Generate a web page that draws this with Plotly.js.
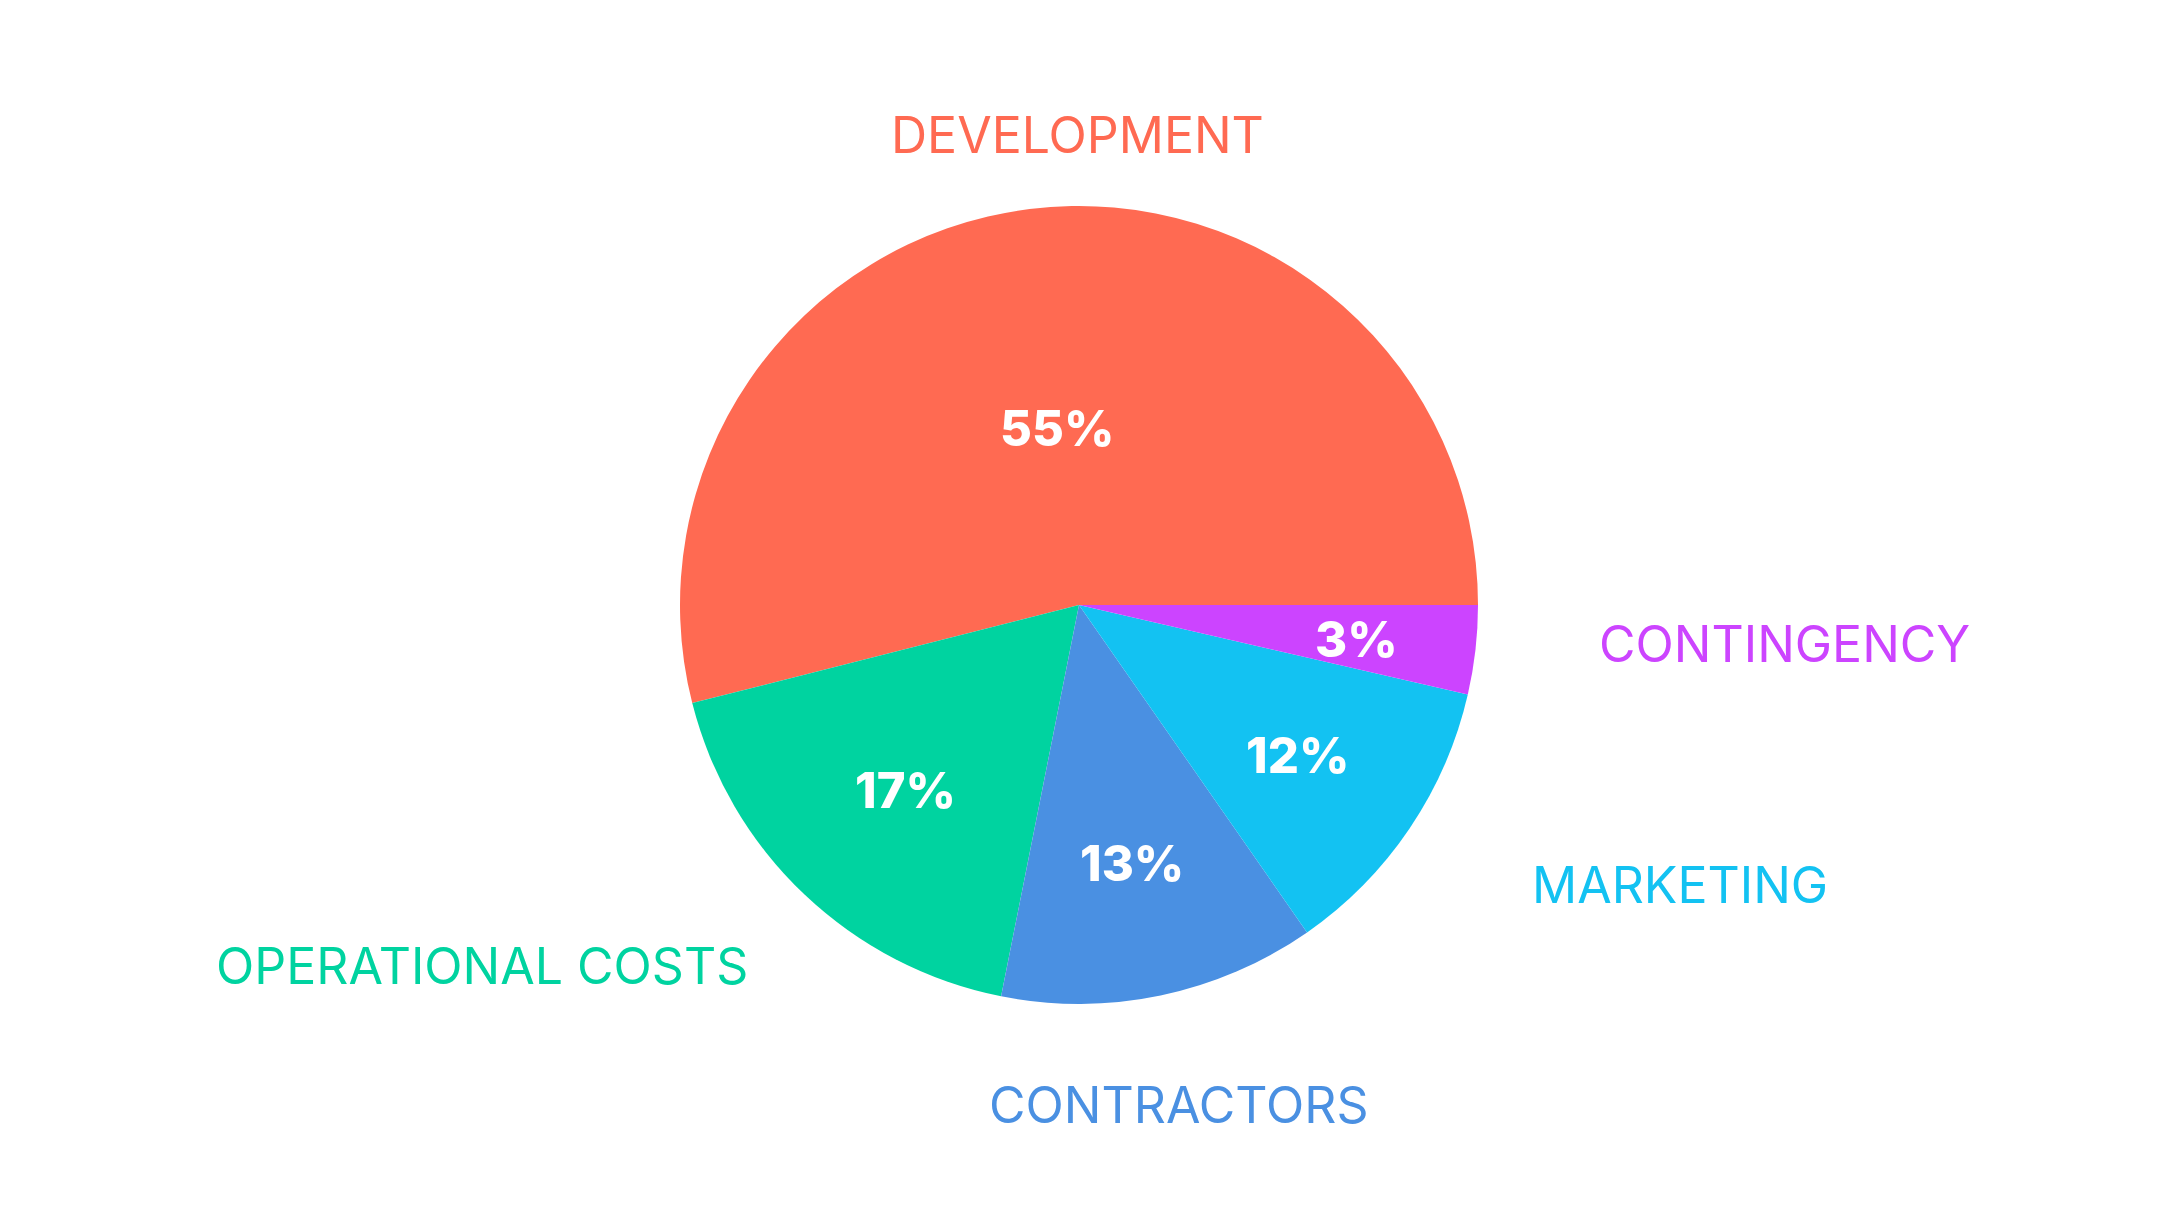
<!DOCTYPE html>
<html>
<head>
<meta charset="utf-8">
<script src="https://cdn.plot.ly/plotly-3.0.1.min.js"></script>
<style>html,body{margin:0;padding:0;background:#fff;}#chart{width:2158px;height:1210px;}</style>
</head>
<body>
<div id="chart"></div>
<script>
const categories = ["DEVELOPMENT", "OPERATIONAL COSTS", "CONTRACTORS", "MARKETING", "CONTINGENCY"];
const values = [53.9, 17.9, 12.8, 11.7, 3.6];
const percentText = ["55%", "17%", "13%", "12%", "3%"];
const colors = ["#FF6A52", "#00D3A0", "#4A90E2", "#13C2F2", "#CC44FF"];
const labelX = [0.4993, 0.2232, 0.5459, 0.7787, 0.8271];
const labelY = [0.8885, 0.2017, 0.0868, 0.2686, 0.4678];

const W = 2158, H = 1210;
const domY = [206 / H, 1004 / H];
const total = values.reduce((a, b) => a + b, 0);
const firstSpan = values[0] / total * 360;

const trace = {
  type: "pie",
  labels: categories,
  values: values,
  text: percentText,
  sort: false,
  direction: "counterclockwise",
  // first slice begins at 3 o'clock and runs counterclockwise
  rotation: (90 - firstSpan + 360) % 360,
  marker: {colors: colors, line: {width: 0}},
  textinfo: "none",
  textposition: "none",
  hoverinfo: "label+text",
  domain: {x: [0, 1], y: domY},
  showlegend: false
};

const annotations = categories.map((c, i) => ({
  text: c,
  x: labelX[i], y: labelY[i],
  xref: "paper", yref: "paper",
  xanchor: "center", yanchor: "middle",
  showarrow: false,
  font: {family: "Inter", size: 50, color: colors[i]}
}));

// percentage labels along each slice's mid-angle (ccw from east);
// wider slices pull their label further toward the centre
const rPx = (domY[1] - domY[0]) * H / 2;
const cy = (domY[0] + domY[1]) / 2;
let cum = 0;
values.forEach((v, i) => {
  const half = v / total * Math.PI;
  const mid = (cum / total) * 2 * Math.PI + half;
  cum += v;
  const d = (0.70 - 0.155 * (half - 0.11)) * rPx;
  annotations.push({
    text: percentText[i],
    x: 0.5 + d * Math.cos(mid) / W,
    y: cy + d * Math.sin(mid) / H,
    xref: "paper", yref: "paper",
    xanchor: "center", yanchor: "middle",
    yshift: -3,
    showarrow: false,
    font: {family: "Inter", size: 49, color: "#ffffff", weight: 800}
  });
});

Plotly.newPlot("chart", [trace], {
  width: W, height: H,
  margin: {l: 0, r: 0, t: 0, b: 0},
  paper_bgcolor: "#ffffff",
  showlegend: false,
  annotations: annotations
}, {displayModeBar: false});
</script>
</body>
</html>
